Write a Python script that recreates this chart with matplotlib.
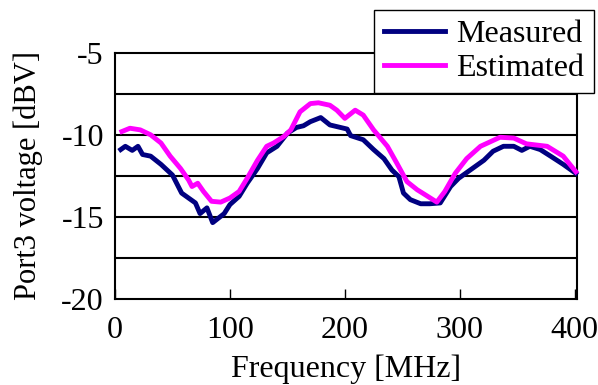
import matplotlib
matplotlib.use("Agg")
import matplotlib.pyplot as plt

# 読み取ったデータ (周波数 MHz, 電圧 dBV)
meas_f = [5, 9, 15, 20, 24, 31, 40, 50, 58, 70, 74, 80, 85, 95, 100, 108, 115,
          124, 132, 141, 150, 158, 164, 170, 179, 187, 196, 202, 205, 216, 225,
          234, 241, 247, 251, 257, 266, 274, 283, 292, 299, 309, 321, 329, 338,
          347, 354, 361, 370, 379, 390, 401]
meas_v = [-10.9, -10.7, -10.95, -10.7, -11.2, -11.3, -11.8, -12.45, -13.55,
          -14.15, -14.8, -14.45, -15.35, -14.8, -14.25, -13.75, -12.95, -12.05,
          -11.1, -10.7, -9.9, -9.55, -9.45, -9.2, -8.95, -9.4, -9.55, -9.65,
          -10.05, -10.3, -10.9, -11.45, -12.15, -12.55, -13.55, -13.95, -14.2,
          -14.2, -14.15, -13.15, -12.65, -12.15, -11.55, -11.0, -10.7, -10.7,
          -10.95, -10.7, -10.9, -11.3, -11.8, -12.35]

est_f = [6, 13, 22, 31, 40, 48, 57, 64, 67, 72, 77, 84, 92, 100, 108, 115, 124,
         132, 138, 147, 153, 161, 170, 177, 187, 193, 200, 209, 216, 225, 237,
         245, 254, 263, 271, 280, 287, 296, 306, 318, 335, 347, 358, 376, 390,
         401]
est_v = [-9.8, -9.6, -9.7, -10.0, -10.5, -11.3, -12.05, -12.75, -13.15, -12.95,
         -13.45, -14.05, -14.1, -13.85, -13.45, -12.65, -11.55, -10.7, -10.5,
         -10.1, -9.7, -8.6, -8.1, -8.05, -8.2, -8.5, -9.0, -8.5, -8.8, -9.7,
         -10.7, -11.7, -12.85, -13.35, -13.7, -14.1, -13.45, -12.35, -11.45,
         -10.7, -10.15, -10.2, -10.55, -10.7, -11.3, -12.25]

x_ticks = [0, 100, 200, 300, 400]
y_ticks = [-20, -15, -10, -5]


def main():
    plt.rcParams["font.family"] = "Liberation Serif"
    plt.rcParams["axes.unicode_minus"] = False

    fig = plt.figure(figsize=(5.98, 3.85), dpi=100)
    ax = fig.add_axes([0.1923, 0.2234, 0.7726, 0.6397])

    # 横グリッド (2.5 dB 毎)
    for g in [-17.5, -15, -12.5, -10, -7.5]:
        ax.axhline(g, color="black", lw=1.5, zorder=1)

    ax.plot(meas_f, meas_v, color="#000080", lw=3.5, label="Measured",
            zorder=3, clip_on=False)
    ax.plot(est_f, est_v, color="#FF00FF", lw=3.5, label="Estimated",
            zorder=3, clip_on=False)

    ax.set_xlim(0, 402)
    ax.set_ylim(-20, -5)
    ax.set_xticks(x_ticks)
    ax.set_yticks(y_ticks)
    ax.tick_params(axis="x", direction="in", length=7, width=1, labelsize=23,
                   pad=12)
    ax.tick_params(axis="y", length=0, labelsize=23, pad=8)
    for s in ax.spines.values():
        s.set_linewidth(1.5)

    ax.set_xlabel("Frequency [MHz]", fontsize=23, labelpad=7)
    ax.set_ylabel("Port3 voltage [dBV]", fontsize=22, labelpad=13)

    leg = fig.legend(loc="upper right", bbox_to_anchor=(593.5 / 598, 0.974),
                     fontsize=23, fancybox=False, framealpha=1,
                     handlelength=1.9, handletextpad=0.35, borderpad=0.3,
                     labelspacing=0.15, borderaxespad=0)
    leg.get_frame().set_edgecolor("black")
    leg.get_frame().set_linewidth(1)

    fig.savefig("out.png", dpi=100)


if __name__ == '__main__':
    main()
